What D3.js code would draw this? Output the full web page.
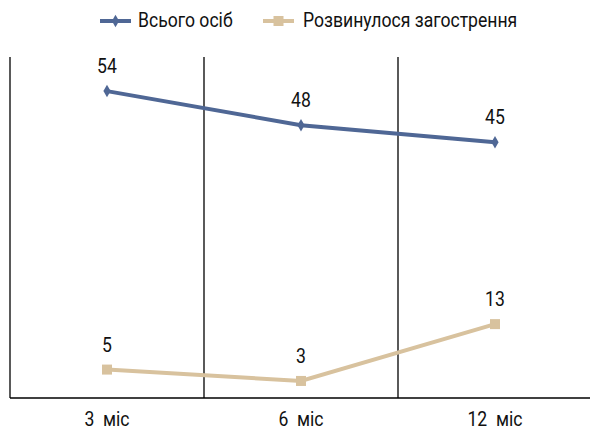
<!DOCTYPE html>
<html>
<head>
<meta charset="utf-8">
<script src="https://cdn.jsdelivr.net/npm/d3@7"></script>
<style>
  html, body { margin: 0; padding: 0; background: #fff; }
  svg text { font-family: Roboto, "Liberation Sans Narrow", sans-serif; fill: #111; white-space: pre; }
</style>
</head>
<body>
<svg id="chart" width="590" height="431"></svg>
<script>
// Categories and series
const categories = ["3  міс", "6  міс", "12  міс"];
const seriesNames = ["Всього осіб", "Розвинулося загострення"];
const totalValues = [54, 48, 45];
const exacerbationValues = [5, 3, 13];
const yMax = 60;

const colors = ["#4F6795", "#D8C29E"];
const narrow = 0.88; // horizontal squeeze to get a condensed face

const svg = d3.select("#chart");
const margin = { left: 10, right: 0, top: 57, bottom: 33 };
const W = 590, H = 431;

const x = d3.scaleBand().domain(categories).range([margin.left, margin.left + 194 * 3]).padding(0);
const y = d3.scaleLinear().domain([0, yMax]).range([H - margin.bottom, margin.top]);

// Condensed text helper
function label(g, tx, ty, str, size, anchor) {
  return g.append("text")
    .attr("transform", `translate(${tx},${ty}) scale(${narrow},1)`)
    .attr("text-anchor", anchor || "start")
    .attr("font-size", size)
    .attr("xml:space", "preserve")
    .text(str);
}

// Vertical separators between categories, plus the left border
const seps = [margin.left, x(categories[1]), x(categories[2])];
svg.selectAll("line.sep").data(seps).enter().append("line")
  .attr("x1", d => d).attr("x2", d => d)
  .attr("y1", y(yMax)).attr("y2", y(0))
  .attr("stroke", "#000").attr("stroke-width", 1.3);

const cx = d => x(d) + x.bandwidth() / 2;

// Category axis
const xAxis = svg.append("g").attr("transform", `translate(0,${y(0)})`)
  .call(d3.axisBottom(x).tickSize(0).tickFormat(""));
xAxis.select(".domain").remove();
svg.append("line").attr("x1", margin.left).attr("x2", W).attr("y1", y(0)).attr("y2", y(0))
  .attr("stroke", "#000").attr("stroke-width", 1.3);
xAxis.selectAll(".tick").each(function(d) {
  label(d3.select(this), 0, 28, d, 20, "middle");
});

const series = [totalValues, exacerbationValues];
const line = d3.line().x((d, i) => cx(categories[i])).y(d => y(d));

series.forEach((vals, s) => {
  const g = svg.append("g");
  g.append("path").datum(vals).attr("d", line)
    .attr("fill", "none").attr("stroke", colors[s]).attr("stroke-width", 4);
  if (s === 0) {
    g.selectAll("path.m").data(vals).enter().append("path")
      .attr("d", d3.symbol().type(d3.symbolDiamond).size(45))
      .attr("transform", (d, i) => `translate(${cx(categories[i])},${y(d)})`)
      .attr("fill", colors[s]);
  } else {
    g.selectAll("rect.m").data(vals).enter().append("rect")
      .attr("x", (d, i) => cx(categories[i]) - 5).attr("y", d => y(d) - 5)
      .attr("width", 10).attr("height", 10).attr("fill", colors[s]);
  }
  vals.forEach((v, i) => label(g, cx(categories[i]), y(v) - 18, String(v), 20, "middle"));
});

// Legend
const legend = [{ x: 100, tx: 138 }, { x: 263, tx: 303 }];
legend.forEach((L, s) => {
  const g = svg.append("g");
  g.append("line").attr("x1", L.x).attr("x2", L.x + 31).attr("y1", 21).attr("y2", 21)
    .attr("stroke", colors[s]).attr("stroke-width", 4);
  if (s === 0) {
    g.append("path").attr("d", d3.symbol().type(d3.symbolDiamond).size(45))
      .attr("transform", `translate(${L.x + 15.5},21)`).attr("fill", colors[s]);
  } else {
    g.append("rect").attr("x", L.x + 10.5).attr("y", 16).attr("width", 10).attr("height", 10).attr("fill", colors[s]);
  }
  label(g, L.tx, 27, seriesNames[s], 20);
});
</script>
</body>
</html>
